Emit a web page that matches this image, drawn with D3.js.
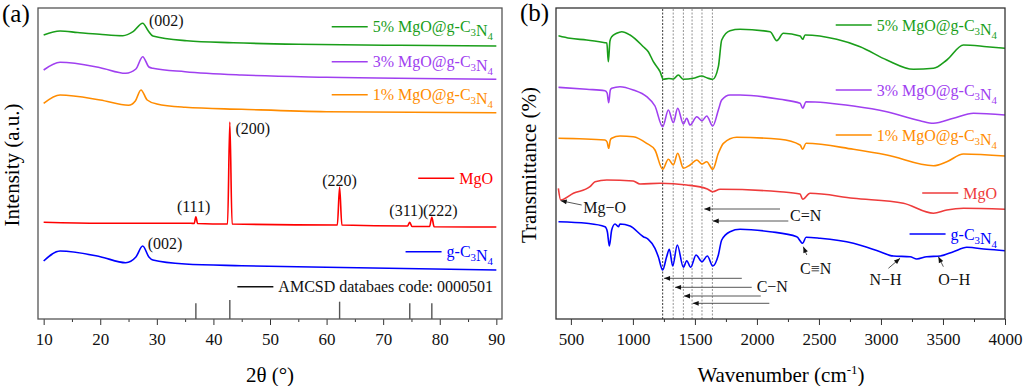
<!DOCTYPE html>
<html>
<head>
<meta charset="utf-8">
<script src="https://cdn.jsdelivr.net/npm/d3@7"></script>
<style>
  body { margin: 0; background: #fff; }
  svg { display: block; }
</style>
</head>
<body>
<svg id="chart" width="1024" height="386" font-family="Liberation Serif"></svg>
<script>
// ---- data (a): XRD, [2theta, intensity a.u.] ----
const xrd5 = [[10,284],[12.9,288],[16,286.5],[19.9,284.7],[24,283.3],[25.8,287.3],[27.5,295.7],[28.5,288],[29.3,283],[35.3,278.3],[43.5,276.3],[55,274.7],[72.9,273.7],[90,273]];
const xrd3 = [[10,249],[12.9,256.7],[20,251.3],[24.5,245.7],[26.3,250],[27.5,262.3],[28.6,252],[29.3,250.7],[35,247.3],[45,244],[60,241.7],[90,239.7]];
const xrd1 = [[10,215.7],[12.9,224],[20,219],[25,213.7],[26.2,218],[27.2,229],[28.3,219],[30,215],[35,211.7],[45,209.7],[60,207.3],[90,206.3]];
const xrdMgO = [[10,96.7],[20,95.7],[36,95.7],[36.6,95.5],[36.9,102.3],[37.2,95.5],[42.5,95],[42.9,197],[43.3,95],[61.9,94],[62.3,132],[62.7,94],[74.3,93],[74.7,96.7],[75.1,92.5],[78.2,92.5],[78.6,101.7],[79,92.3],[90,92]];
const xrdCN = [[10,58],[12.9,68],[20,62.3],[24.5,56.3],[26.3,62],[27.5,73],[28.6,62],[29.3,59],[35,55],[45,53.3],[60,51.7],[90,49]];
const refAngles = [36.9, 42.9, 62.3, 74.7, 78.6];
const refHeights = [15.7, 19, 17.3, 15.7, 15.7];
const xrdTicks = [10, 20, 30, 40, 50, 60, 70, 80, 90];

// ---- data (b): FTIR, [wavenumber, transmittance a.u.] ----
const ftir5 = [[400,283.3],[493,280.7],[627,279],[775,276.3],[790,276],[802,257.3],[815,278],[829,282.3],[869,285.7],[910,287.3],[977,284],[1084,272.3],[1124,267.3],[1165,257.3],[1219,247.3],[1245,239.7],[1290,240.5],[1326,240],[1366,244],[1407,239.7],[1487,240.7],[1555,243],[1600,241],[1644,239.7],[1689,252.3],[1716,279],[1783,288.3],[1864,289.7],[2106,287.3],[2160,278.3],[2213,285.7],[2348,283],[2369,279.7],[2388,284],[2643,279.7],[2832,272.3],[3047,259],[3262,249.7],[3423,250.7],[3531,259],[3665,274],[3853,272.3],[4000,270.7]];
const ftir3 = [[400,231.7],[627,229.7],[775,228.3],[792,226],[805,216.3],[818,229],[829,230.7],[896,232.3],[1003,229],[1111,222.3],[1178,213],[1240,192.3],[1286,209],[1326,196.3],[1361,210.7],[1407,195],[1434,200.7],[1461,194],[1515,202.3],[1557,198.3],[1595,203],[1644,193],[1689,209],[1716,219],[1783,224],[1864,224],[2186,219.7],[2348,215.7],[2369,210.7],[2396,217.3],[2778,213],[3047,207.3],[3315,198.3],[3423,195.7],[3584,200.7],[3746,205.7],[4000,204]];
const ftir1 = [[400,180.7],[775,179],[792,177],[805,170.7],[818,179],[829,180.7],[896,183],[1003,182.3],[1111,175.7],[1178,169],[1240,149.7],[1286,159.7],[1326,154],[1361,165.7],[1407,150.7],[1461,154],[1515,159],[1557,155],[1595,157.3],[1644,149.7],[1689,165.7],[1730,175.7],[1837,181.7],[2186,179.7],[2348,174],[2369,169.7],[2396,175.7],[2778,169.7],[3047,164],[3423,153.3],[3531,157.3],[3665,165],[4000,163]];
const ftirMgO = [[399,130.7],[418,119],[520,125.7],[654,132.3],[695,137.3],[789,139],[1003,138],[1057,135],[1219,135.7],[1434,134],[1600,130],[1644,127.3],[1703,129.7],[2186,127.3],[2348,125],[2369,119.7],[2428,125.7],[2778,120.7],[3181,115.7],[3423,105.7],[3531,109],[3665,110.7],[4000,109.7]];
const ftirCN = [[400,97.3],[627,95.7],[775,92.3],[794,87.3],[810,73],[829,89],[856,95],[883,92.3],[896,95],[977,93],[1084,82.3],[1124,79.7],[1178,70.7],[1205,62.3],[1240,49],[1272,62.3],[1294,69.7],[1321,53],[1358,74],[1407,51.7],[1434,58.3],[1466,51.7],[1509,64],[1557,57.3],[1600,63],[1644,53],[1689,64],[1716,79],[1783,87.3],[1864,89.7],[2106,87.3],[2321,82.3],[2369,75.7],[2396,81.7],[2509,80.7],[2778,75.7],[2993,67.3],[3100,63],[3235,62.3],[3289,60],[3369,62.3],[3477,63],[3584,67.3],[3692,71.7],[3853,69.7],[4000,68.3]];
const bands = [1240, 1325, 1407, 1477, 1557, 1641];
const ftirTicks = [500, 1000, 1500, 2000, 2500, 3000, 3500, 4000];

const names = ["5% MgO@g-C_3N_4", "3% MgO@g-C_3N_4", "1% MgO@g-C_3N_4", "MgO", "g-C_3N_4"];
const colorsA = ["#1a9e1a", "#a040f0", "#ff8c00", "#ff0000", "#0000ff"];
const colorsB = ["#1a9e1a", "#a040f0", "#ff8c00", "#ee3b3b", "#0000ff"];

const SERIF = "Liberation Serif";
const svg = d3.select("#chart");
const FONT = 16;

// text with _n subscripts
function richText(sel, str, size) {
  str.split(/(_\d)/).filter(s => s).forEach(part => {
    if (part[0] === "_") {
      sel.append("tspan").attr("font-size", size * 0.68).attr("dy", 4).text(part[1]);
      sel.append("tspan").attr("dy", -4).text("");
    } else {
      sel.append("tspan").text(part);
    }
  });
  return sel;
}

function legend(g, xEnd, y, label, color) {
  const t = g.append("text").attr("x", xEnd).attr("y", y).attr("dy", "0.35em")
    .attr("text-anchor", "end").attr("font-size", FONT).attr("fill", color)
    .attr("font-family", SERIF);
  richText(t, label, FONT);
  const w = t.node().getComputedTextLength();
  g.append("line").attr("x1", xEnd - w - 41).attr("x2", xEnd - w - 5)
    .attr("y1", y).attr("y2", y).attr("stroke", color).attr("stroke-width", 1.6);
}

function drawAxis(g, x, majors, minors, bottom) {
  const ax = g.append("g").attr("transform", `translate(0,${bottom})`)
    .call(d3.axisBottom(x).tickValues(majors).tickSize(6).tickPadding(8).tickFormat(d3.format("d")));
  ax.select(".domain").remove();
  ax.attr("font-family", SERIF).attr("font-size", 17);
  ax.selectAll("text").attr("fill", "#111");
  ax.selectAll("line").attr("stroke", "#333");
  const mn = g.append("g").attr("transform", `translate(0,${bottom})`)
    .call(d3.axisBottom(x).tickValues(minors).tickSize(3).tickFormat(""));
  mn.select(".domain").remove();
  mn.selectAll("line").attr("stroke", "#333");
}

// arrow marker
svg.append("defs").append("marker").attr("id", "arr")
  .attr("viewBox", "0 0 10 10").attr("refX", 10).attr("refY", 5)
  .attr("markerWidth", 7).attr("markerHeight", 6).attr("orient", "auto")
  .attr("markerUnits", "userSpaceOnUse")
  .append("path").attr("d", "M0,1L10,5L0,9Z").attr("fill", "#111");

// ================= panel (a) =================
const xa = d3.scaleLinear([9, 91], [38, 502]);
const ya = d3.scaleLinear([0, 311], [319, 8]);
const ga = svg.append("g");

drawAxis(ga, xa, xrdTicks, [15, 25, 35, 45, 55, 65, 75, 85], 319);

// reference sticks
ga.selectAll(".ref").data(refAngles).join("line")
  .attr("x1", d => xa(d)).attr("x2", d => xa(d))
  .attr("y1", ya(0)).attr("y2", (d, i) => ya(refHeights[i]))
  .attr("stroke", "#555").attr("stroke-width", 1.4);

const lineA = d3.line().x(d => xa(d[0])).y(d => ya(d[1])).curve(d3.curveMonotoneX);
[xrd5, xrd3, xrd1, xrdMgO, xrdCN].forEach((s, i) => {
  ga.append("path").datum(s).attr("d", lineA).attr("fill", "none")
    .attr("stroke", colorsA[i]).attr("stroke-width", 1.6);
});

ga.append("rect").attr("x", 38).attr("y", 8).attr("width", 464).attr("height", 311)
  .attr("fill", "none").attr("stroke", "#555").attr("stroke-width", 1.3);

const legYA = [26.7, 61.7, 94.7, 178.3, 251.7];
names.forEach((n, i) => legend(ga, 493, legYA[i], n, colorsA[i]));
legend(ga, 493, 286.7, "AMCSD databaes code: 0000501", "#111");

const peakLabels = [
  { t: "(002)", x: 28.6, y: 20, a: "start" },
  { t: "(200)", x: 43.9, y: 128, a: "start" },
  { t: "(220)", x: 62.3, y: 180, a: "middle" },
  { t: "(111)", x: 36.5, y: 206.7, a: "middle" },
  { t: "(311)", x: 74.1, y: 210.7, a: "middle" },
  { t: "(222)", x: 80.1, y: 210, a: "middle" },
  { t: "(002)", x: 28.4, y: 243.3, a: "start" }
];
peakLabels.forEach(p => ga.append("text").attr("x", xa(p.x)).attr("y", p.y).attr("dy", "0.35em")
  .attr("text-anchor", p.a).attr("font-size", FONT).attr("fill", "#111").text(p.t));

ga.append("text").attr("x", 270).attr("y", 375).attr("dy", "0.35em").attr("text-anchor", "middle")
  .attr("font-size", 21).text("2θ (°)");
ga.append("text").attr("transform", "translate(12,165) rotate(-90)").attr("dy", "0.35em")
  .attr("text-anchor", "middle").attr("font-size", 21).text("Intensity (a.u.)");
ga.append("text").attr("x", 2).attr("y", 13).attr("dy", "0.35em").attr("font-size", 25).text("(a)");

// ================= panel (b) =================
const xb = d3.scaleLinear([380, 4000], [556, 1005]);
const yb = d3.scaleLinear([0, 311], [319, 8]);
const gb = svg.append("g");

drawAxis(gb, xb, ftirTicks, [750, 1250, 1750, 2250, 2750, 3250, 3750], 319);

gb.selectAll(".band").data(bands).join("line")
  .attr("x1", d => xb(d)).attr("x2", d => xb(d)).attr("y1", 9).attr("y2", 319)
  .attr("stroke", (d, i) => i === 0 ? "#222" : "#888").attr("stroke-width", 0.9)
  .attr("stroke-dasharray", "2,1.5");

const lineB = d3.line().x(d => xb(d[0])).y(d => yb(d[1])).curve(d3.curveMonotoneX);
[ftir5, ftir3, ftir1, ftirMgO, ftirCN].forEach((s, i) => {
  gb.append("path").datum(s).attr("d", lineB).attr("fill", "none")
    .attr("stroke", colorsB[i]).attr("stroke-width", 1.6);
});

gb.append("rect").attr("x", 556).attr("y", 8).attr("width", 449).attr("height", 311)
  .attr("fill", "none").attr("stroke", "#333").attr("stroke-width", 1.3);

const legYB = [25, 90, 135, 193, 234];
names.forEach((n, i) => legend(gb, 997, legYB[i], n, colorsB[i]));

// band arrows: [from wavenumber, to wavenumber, y1, y2]
const arrowsB = [
  [587, 418, 205, 200.7], [2186, 1576, 209, 209], [2253, 1644, 221, 221],
  [1878, 1251, 278.3, 278.3], [1958, 1340, 287.3, 287.3], [2031, 1412, 296, 296], [2100, 1482, 303.3, 303.3],
  [2402, 2374, 255, 246.7], [3060, 3154, 268.3, 258.3], [3503, 3463, 266.7, 256.7]
];
arrowsB.forEach(a => gb.append("line").attr("x1", xb(a[0])).attr("x2", xb(a[1]))
  .attr("y1", a[2]).attr("y2", a[3]).attr("stroke", "#444").attr("stroke-width", 0.9)
  .attr("marker-end", "url(#arr)"));

const bandLabels = [
  { t: "Mg−O", w: 600, y: 207.7 }, { t: "C=N", w: 2267, y: 215 }, { t: "C−N", w: 1998, y: 286.7 },
  { t: "C≡N", w: 2348, y: 268.3 }, { t: "N−H", w: 2907, y: 279.3 }, { t: "O−H", w: 3461, y: 279 }
];
bandLabels.forEach(b => gb.append("text").attr("x", xb(b.w)).attr("y", b.y).attr("dy", "0.35em")
  .attr("font-size", FONT).attr("fill", "#111").text(b.t));

const xt = gb.append("text").attr("x", 781).attr("y", 375).attr("dy", "0.35em")
  .attr("text-anchor", "middle").attr("font-size", 21);
xt.append("tspan").text("Wavenumber (cm");
xt.append("tspan").attr("font-size", 13).attr("dy", -8).text("-1");
xt.append("tspan").attr("dy", 8).text(")");
gb.append("text").attr("transform", "translate(529,165) rotate(-90)").attr("dy", "0.35em")
  .attr("text-anchor", "middle").attr("font-size", 21).text("Transmittance (%)");
gb.append("text").attr("x", 520).attr("y", 12).attr("dy", "0.35em").attr("font-size", 25).text("(b)");

svg.selectAll("text").attr("font-family", SERIF);
</script>
</body>
</html>
